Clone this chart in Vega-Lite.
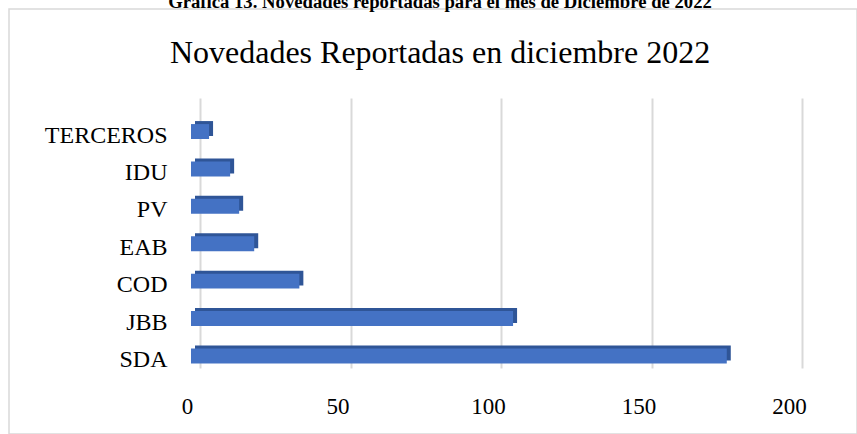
{
  "$schema": "https://vega.github.io/schema/vega-lite/v6.json",
  "width": 848,
  "height": 425,
  "autosize": {"type": "none"},
  "padding": {"left": 9, "top": 9, "right": 0, "bottom": 0},
  "background": "white",
  "config": {
    "view": {"stroke": "#d9d9d9", "strokeWidth": 1.5},
    "font": "Liberation Serif"
  },
  "title": {
    "text": "Gráfica 13. Novedades reportadas para el mes de Diciembre de 2022",
    "subtitle": "Novedades Reportadas en diciembre 2022",
    "anchor": "middle",
    "frame": "group",
    "dx": 7,
    "offset": -60,
    "font": "Liberation Serif",
    "fontSize": 18.7,
    "fontWeight": "bold",
    "color": "#000000",
    "subtitleFont": "Liberation Serif",
    "subtitleFontSize": 32,
    "subtitleColor": "#000000",
    "subtitlePadding": 26
  },
  "data": {
    "values": [
      {"entidad": "SDA", "novedades": 178},
      {"entidad": "JBB", "novedades": 107},
      {"entidad": "COD", "novedades": 36},
      {"entidad": "EAB", "novedades": 21},
      {"entidad": "PV", "novedades": 16},
      {"entidad": "IDU", "novedades": 13},
      {"entidad": "TERCEROS", "novedades": 6}
    ]
  },
  "encoding": {
    "y": {
      "field": "entidad",
      "type": "nominal",
      "sort": ["TERCEROS", "IDU", "PV", "EAB", "COD", "JBB", "SDA"],
      "scale": {"range": [89, 359], "paddingInner": 0.6, "paddingOuter": 0.41, "align": 0.85},
      "axis": {
        "title": null,
        "domain": false,
        "ticks": false,
        "grid": false,
        "labelFont": "Liberation Serif",
        "labelFontSize": 24,
        "labelColor": "#000000",
        "labelPadding": 0,
        "offset": -158,
        "labelOffset": 4
      }
    },
    "x": {
      "field": "novedades",
      "type": "quantitative",
      "scale": {"domain": [0, 200], "range": [182, 784], "nice": false},
      "axis": {
        "orient": "top",
        "title": null,
        "values": [0, 50, 100, 150, 200],
        "domain": false,
        "ticks": false,
        "grid": true,
        "gridColor": "#d9d9d9",
        "gridWidth": 2,
        "tickOffset": 9,
        "labelOffset": -13,
        "labelFlush": false,
        "labelOverlap": false,
        "labelBaseline": "alphabetic",
        "labelFont": "Liberation Serif",
        "labelFontSize": 23,
        "labelColor": "#000000",
        "labelPadding": -404
      }
    }
  },
  "layer": [
    {"mark": {"type": "bar", "color": "#2f5597", "xOffset": 4, "x2Offset": 4, "yOffset": -3, "y2Offset": -3}},
    {"mark": {"type": "bar", "color": "#4472c4"}}
  ]
}
